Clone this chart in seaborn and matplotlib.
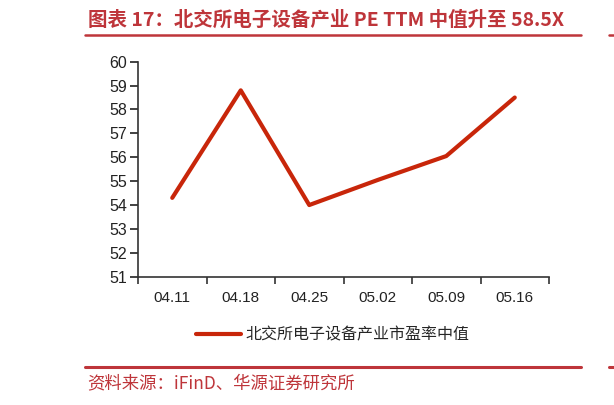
import numpy as np
import pandas as pd
import seaborn as sns
import matplotlib.pyplot as plt
from matplotlib.lines import Line2D
from matplotlib.ticker import FixedLocator

dates = ['04.11', '04.18', '04.25', '05.02', '05.09', '05.16']
pe_median = [54.3, 58.8, 54.0, 55.05, 56.05, 58.5]
series_name = '北交所电子设备产业市盈率中值'
title = '图表 17：北交所电子设备产业 PE TTM 中值升至 58.5X'
source = '资料来源：iFinD、华源证券研究所'
y_ticks = list(range(51, 61))

df = pd.DataFrame({'date': dates, 'pe': pe_median})

sns.set_theme(style='ticks')
plt.rcParams['font.family'] = ['Liberation Sans', 'Noto Sans CJK SC', 'DejaVu Sans']

W, H = 614, 405
fig = plt.figure(figsize=(W / 100, H / 100), dpi=100)
ax = fig.add_axes([138 / W, 1 - 276.7 / H, (549 - 138) / W, (276.7 - 61.7) / H])

line_color = '#c8260a'
red = '#be353a'

sns.lineplot(data=df, x='date', y='pe', ax=ax, color=line_color, linewidth=3.0,
             sort=False, label=series_name, legend=False)

ax.set_xlim(-0.5, len(dates) - 0.5)
ax.set_ylim(51, 60)
ax.set_yticks(y_ticks)
ax.set_xticks(range(len(dates)))
ax.set_xticklabels(dates)
ax.xaxis.set_minor_locator(FixedLocator(np.arange(-0.5, len(dates), 1.0)))
ax.tick_params(axis='x', which='major', length=0, pad=10, labelsize=11, colors='#222222')
ax.tick_params(axis='x', which='minor', length=5, width=1.2, color='#333333')
ax.tick_params(axis='y', length=6, width=1.2, labelsize=11.5, colors='#222222', pad=2)
ax.set_xlabel('')
ax.set_ylabel('')
sns.despine(ax=ax)
for s in ['left', 'bottom']:
    ax.spines[s].set_linewidth(1.2)
    ax.spines[s].set_color('#333333')

handle = Line2D([], [], color=line_color, linewidth=3.0)
fig.legend([handle], [series_name], loc='center', bbox_to_anchor=(333 / W, 1 - 335 / H),
           frameon=False, handlelength=2.8, handletextpad=0.3,
           prop={'family': ['Noto Sans CJK SC'], 'size': 11.5})

# header / footer
fig.text(88 / W, 1 - 20.5 / H, title, color=red, fontsize=14, fontweight='bold',
         ha='left', va='center', family=['Noto Sans CJK SC', 'DejaVu Sans'])
fig.add_artist(Line2D([85 / W, 581 / W], [1 - 34.5 / H] * 2, color=red, linewidth=1.8))
fig.add_artist(Line2D([85 / W, 581 / W], [1 - 367 / H] * 2, color=red, linewidth=2.2))
fig.add_artist(Line2D([609 / W, 1.0], [1 - 34.5 / H] * 2, color=red, linewidth=1.8))
fig.add_artist(Line2D([609 / W, 1.0], [1 - 367 / H] * 2, color=red, linewidth=2.2))
fig.text(87 / W, 1 - 383.5 / H, source, color=red, fontsize=12.5, ha='left', va='center',
         family=['Noto Sans CJK SC', 'DejaVu Sans'])

fig.savefig('out.png', dpi=100)
